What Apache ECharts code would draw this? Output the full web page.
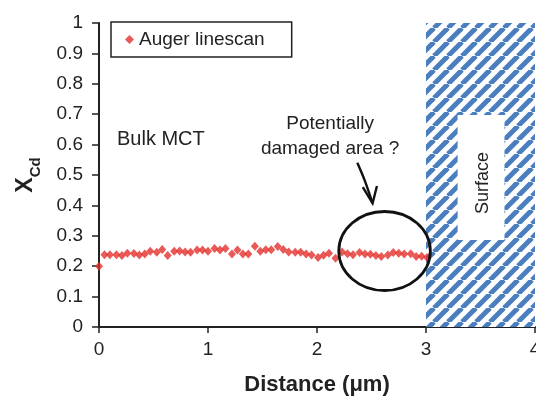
<!DOCTYPE html>
<html>
<head>
<meta charset="utf-8">
<script src="https://cdn.jsdelivr.net/npm/echarts@6/dist/echarts.min.js"></script>
<style>
  html,body{margin:0;padding:0;background:#fff;}
  #main{width:536px;height:397px;}
</style>
</head>
<body>
<div id="main"></div>
<script>
// Auger linescan, distance (um) vs Cd fraction
var distance = [0, 0.05, 0.10, 0.16, 0.21, 0.26, 0.32, 0.37, 0.42, 0.47, 0.53, 0.58, 0.63, 0.69, 0.74, 0.79, 0.84, 0.90, 0.95,
  1.00, 1.06, 1.11, 1.16, 1.22, 1.27, 1.32, 1.37, 1.43, 1.48, 1.53, 1.58, 1.64, 1.69, 1.74, 1.80, 1.85, 1.90, 1.95,
  2.01, 2.06, 2.11, 2.17, 2.23, 2.28, 2.33, 2.39, 2.44, 2.49, 2.54, 2.59, 2.65, 2.70, 2.75, 2.80, 2.86, 2.91, 2.96, 3.01];
var xcd = [0.200, 0.238, 0.238, 0.238, 0.235, 0.243, 0.242, 0.237, 0.240, 0.249, 0.246, 0.255, 0.235, 0.249, 0.250, 0.247, 0.246, 0.253, 0.253,
  0.249, 0.258, 0.253, 0.258, 0.240, 0.253, 0.240, 0.240, 0.266, 0.249, 0.254, 0.254, 0.265, 0.255, 0.247, 0.246, 0.246, 0.240, 0.237,
  0.229, 0.236, 0.243, 0.226, 0.247, 0.241, 0.238, 0.245, 0.240, 0.239, 0.235, 0.232, 0.237, 0.245, 0.243, 0.240, 0.241, 0.232, 0.233, 0.229];
var xTicks = [0, 4, 1];      // min, max, step
var yTicks = [0, 1, 0.1];
var surfaceFrom = 3, surfaceTo = 4;

var ink = '#222';
var font = "'Liberation Sans', Arial, sans-serif";

// diagonal stripes for the surface region
var T = 14;
var tile = document.createElement('canvas');
tile.width = T; tile.height = T;
var tc = tile.getContext('2d');
tc.fillStyle = '#fff';
tc.fillRect(0, 0, T, T);
tc.strokeStyle = '#4a7ebf';
tc.lineWidth = 5;
[-T, 0, T].forEach(function(k){
  tc.beginPath();
  tc.moveTo(k, T);
  tc.lineTo(k + T, 0);
  tc.stroke();
});

var pts = distance.map(function(d, i){ return [d, xcd[i]]; });

var chart = echarts.init(document.getElementById('main'));
var option = {
  animation: false,
  textStyle: {fontFamily: font, color: ink},
  grid: {left: 99, right: 1, top: 23, bottom: 70, outerBoundsMode: 'none'},
  legend: {
    left: 111, top: 22,
    padding: [8, 27, 8, 14],
    borderColor: ink, borderWidth: 1.5,
    itemWidth: 9, itemHeight: 9, itemGap: 5,
    icon: 'diamond',
    textStyle: {fontSize: 19, color: ink, fontFamily: font},
    data: ['Auger linescan']
  },
  xAxis: {
    type: 'value',
    min: xTicks[0], max: xTicks[1], interval: xTicks[2],
    name: 'Distance (\u03bcm)',
    nameLocation: 'middle', nameGap: 47,
    nameTextStyle: {fontSize: 22, fontWeight: 'bold', color: ink, fontFamily: font},
    splitLine: {show: false},
    axisLine: {onZero: false, lineStyle: {color: ink, width: 2}},
    axisTick: {length: 6, lineStyle: {color: ink, width: 1.5}},
    axisLabel: {fontSize: 19, color: ink, margin: 13, fontFamily: font}
  },
  yAxis: {
    type: 'value',
    min: yTicks[0], max: yTicks[1], interval: yTicks[2],
    name: '{x|X}{s|Cd}',
    nameLocation: 'middle', nameGap: 62, nameRotate: 90,
    nameTextStyle: {
      rich: {
        x: {fontSize: 23, fontWeight: 'bold', color: ink, fontFamily: font, verticalAlign: 'bottom'},
        s: {fontSize: 15, fontWeight: 'bold', color: ink, fontFamily: font, verticalAlign: 'bottom', padding: [0, 0, -6, 0]}
      }
    },
    splitLine: {show: false},
    axisLine: {show: true, lineStyle: {color: ink, width: 2}},
    axisTick: {show: true, length: 7, lineStyle: {color: ink, width: 1.5}},
    axisLabel: {fontSize: 19, color: ink, margin: 16, fontFamily: font}
  },
  series: [{
    name: 'Auger linescan',
    type: 'scatter',
    symbol: 'diamond',
    symbolSize: [8, 9],
    itemStyle: {color: '#e3302a'},
    z: 5,
    data: pts,
    markArea: {
      silent: true,
      itemStyle: {color: {image: tile, repeat: 'repeat'}},
      data: [[{xAxis: surfaceFrom, yAxis: yTicks[0]}, {xAxis: surfaceTo, yAxis: yTicks[1]}]]
    }
  }]
};
chart.setOption(option);

// annotations placed in data units
function px(x, y){ return chart.convertToPixel({gridIndex: 0}, [x, y]); }
var ell = px(2.62, 0.25), ellEdge = px(3.04, 0.38);
var boxA = px(3.29, 0.697), boxB = px(3.72, 0.286), surf = px(3.52, 0.474);
var a0 = px(2.37, 0.54), a1 = px(2.44, 0.48), tip = px(2.51, 0.407);
var w1 = px(2.42, 0.46), w2 = px(2.55, 0.464);
var bulk = px(0.165, 0.612), dmg = px(2.12, 0.627);

chart.setOption({
  graphic: [
    {type: 'text', left: bulk[0], top: bulk[1] - 11, z: 10,
      style: {text: 'Bulk MCT', fontSize: 20, fill: ink, fontFamily: font}},
    {type: 'text', x: dmg[0], y: dmg[1], z: 10,
      style: {text: 'Potentially\ndamaged area ?', fontSize: 19, lineHeight: 25, fill: ink, fontFamily: font,
        align: 'center', verticalAlign: 'middle'}},
    {type: 'ellipse', z: 10,
      shape: {cx: ell[0], cy: ell[1], rx: ellEdge[0] - ell[0], ry: ell[1] - ellEdge[1]},
      style: {fill: null, stroke: '#111', lineWidth: 2.8}},
    {type: 'polyline', z: 10,
      shape: {points: [a0, a1, tip], smooth: 0.3},
      style: {fill: null, stroke: '#111', lineWidth: 2.4}},
    {type: 'polyline', z: 10,
      shape: {points: [w1, tip, w2]},
      style: {fill: null, stroke: '#111', lineWidth: 2.4}},
    {type: 'rect', z: 10,
      shape: {x: boxA[0], y: boxA[1], width: boxB[0] - boxA[0], height: boxB[1] - boxA[1]},
      style: {fill: '#fff'}},
    {type: 'text', x: surf[0], y: surf[1], rotation: Math.PI / 2, z: 11,
      style: {text: 'Surface', fontSize: 18, fill: ink, fontFamily: font, align: 'center', verticalAlign: 'middle'}}
  ]
});
</script>
</body>
</html>
